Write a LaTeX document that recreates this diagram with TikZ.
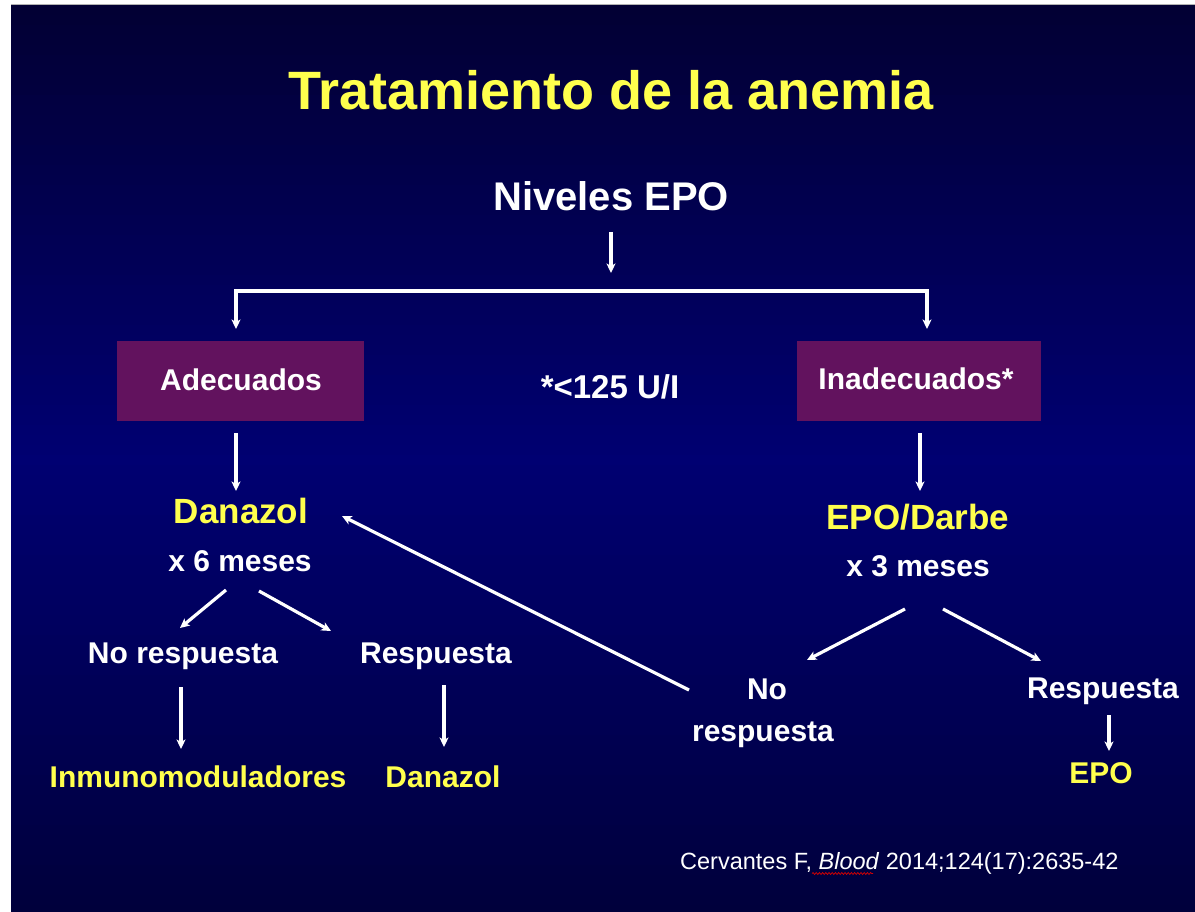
\documentclass[tikz,border=0pt]{standalone}
\usepackage{fontspec}
\setmainfont{Liberation Sans}
\usetikzlibrary{arrows.meta,decorations.pathmorphing}
\definecolor{ylw}{RGB}{255,255,77}
\definecolor{pbox}{RGB}{98,18,94}
\definecolor{bgtop}{RGB}{2,0,52}
\definecolor{bgmid}{RGB}{0,0,114}
\definecolor{bgbot}{RGB}{0,0,60}
\begin{document}
\begin{tikzpicture}[x=1pt,y=-1pt,
  lbl/.style={inner sep=0pt, anchor=base, text=white, font=\bfseries\fontsize{30}{36}\selectfont},
  ylbl/.style={lbl, text=ylw},
  big/.style={font=\bfseries\fontsize{35}{42}\selectfont},
  box/.style={fill=pbox, draw=none, inner sep=0pt},
  arr/.style={draw=white, line width=3.2pt, -{Stealth[length=9.5pt,width=9pt,inset=2.5pt]}},
  ln/.style={draw=white, line width=3.2pt}
]
\useasboundingbox (0,0) rectangle (1195,912);
\fill[white] (0,0) rectangle (1195,912);
\draw[gray!60, line width=1.2pt] (11,4.4) -- (1195,4.4);
\foreach \i in {0,...,90}{
  \pgfmathsetmacro{\yy}{5.2+\i*10}
  \pgfmathsetmacro{\ye}{min(\yy+10.6,912)}
  \pgfmathtruncatemacro{\p}{\i<=45 ? 100*\i/45 : 100*(90-\i)/45}
  \ifnum\i<46 \colorlet{cc}{bgmid!\p!bgtop}\else\colorlet{cc}{bgmid!\p!bgbot}\fi
  \fill[cc] (11,\yy) rectangle (1195,\ye);
}

% title
\node[ylbl, font=\bfseries\fontsize{54}{60}\selectfont] (title) at (611,110) {Tratamiento de la anemia};
\node[lbl, font=\bfseries\fontsize{40}{48}\selectfont] (niv) at (611,211) {Niveles EPO};

% boxes
\node[box, minimum width=247pt, minimum height=80pt] (adb) at (240.5,380.5) {};
\node[box, minimum width=244pt, minimum height=80pt] (inb) at (919,380.5) {};
\node[lbl] (ade) at (241,390) {Adecuados};
\node[lbl] (ina) at (916,389) {Inadecuados*};
\node[lbl, font=\bfseries\fontsize{33}{40}\selectfont] (lim) at (610,398) {*<125 U/I};

% left branch
\node[ylbl, big] (dan) at (241,523.5) {Danazol};
\node[lbl] (x6) at (240,571) {x 6 meses};
\node[lbl] (nr1) at (183,663) {No respuesta};
\node[lbl] (r1) at (436,663) {Respuesta};
\node[ylbl] (inm) at (198,787) {Inmunomoduladores};
\node[ylbl] (dan2) at (443,787) {Danazol};

% right branch
\node[ylbl, big] (epod) at (918,529) {EPO/Darbe};
\node[lbl] (x3) at (918,576) {x 3 meses};
\node[lbl] (no) at (767,699) {No};
\node[lbl] (resp) at (763,741) {respuesta};
\node[lbl] (r2) at (1103,698) {Respuesta};
\node[ylbl] (epo) at (1101,783) {EPO};

% citation
\node[inner sep=0pt, anchor=base west, text=white, font=\fontsize{23.5}{28}\selectfont] (cit) at (680,869.5) {Cervantes F, \textit{Blood} 2014;124(17):2635-42};
\draw[red!85!black, line width=0.7pt, decorate, decoration={snake, amplitude=1pt, segment length=3.2pt}] (812,873.5) -- (873,873.5);

% connector coordinates
\coordinate (n0) at (611,232);
\coordinate (n1) at (611,273);
\coordinate (bl) at (236,291);
\coordinate (br) at (927,291);
\coordinate (al) at (236,329);
\coordinate (ar) at (927,329);
\coordinate (a1) at (236,433);
\coordinate (a2) at (236,491);
\coordinate (c1) at (226,590);
\coordinate (c2) at (180,628);
\coordinate (d1) at (259,591);
\coordinate (d2) at (331,631);
\coordinate (e1) at (181,687);
\coordinate (e2) at (181,749);
\coordinate (f1) at (444,685);
\coordinate (f2) at (444,747);
\coordinate (g1) at (689,690);
\coordinate (g2) at (342,516);
\coordinate (h1) at (920,433);
\coordinate (h2) at (920,491);
\coordinate (i1) at (905,609);
\coordinate (i2) at (807,660);
\coordinate (j1) at (943,609);
\coordinate (j2) at (1041,661);
\coordinate (k1) at (1109,715);
\coordinate (k2) at (1109,751);

\draw[arr] (n0) -- (n1);
\draw[ln, line cap=rect] (bl) -- (br);
\draw[arr] (bl) -- (al);
\draw[arr] (br) -- (ar);
\draw[arr] (a1) -- (a2);
\draw[arr] (c1) -- (c2);
\draw[arr] (d1) -- (d2);
\draw[arr] (e1) -- (e2);
\draw[arr] (f1) -- (f2);
\draw[arr] (g1) -- (g2);
\draw[arr] (h1) -- (h2);
\draw[arr] (i1) -- (i2);
\draw[arr] (j1) -- (j2);
\draw[arr] (k1) -- (k2);
\end{tikzpicture}
\end{document}
